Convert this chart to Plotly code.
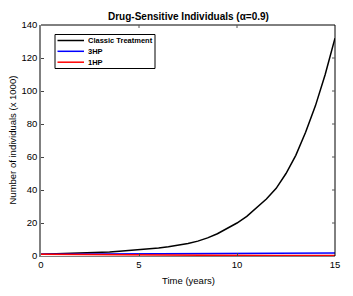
import plotly.graph_objects as go

t = [0, 0.5, 1, 1.5, 2, 2.5, 3, 3.5, 4, 4.5, 5, 5.5, 6, 6.5, 7, 7.5, 8, 8.5,
     9, 9.5, 10, 10.5, 11, 11.5, 12, 12.5, 13, 13.5, 14, 14.5, 15]
classic = [1.0, 1.15, 1.3, 1.5, 1.7, 1.95, 2.2, 2.5, 2.9, 3.3, 3.7, 4.3, 4.9, 5.6,
           6.5, 7.6, 9.0, 11.0, 13.5, 16.5, 20, 24, 29, 34.5, 41, 50, 61, 75, 91, 110, 132]
t_short = [0, 3, 6, 9, 12, 15]
hp3 = [1.0, 1.15, 1.3, 1.45, 1.6, 1.8]
hp1 = [1.0, 0.7, 0.5, 0.4, 0.3, 0.25]

series_names = ["Classic Treatment", "3HP", "1HP"]
series_colors = ["black", "#0000ff", "#ff0000"]

xticks = [0, 5, 10, 15]
yticks = [0, 20, 40, 60, 80, 100, 120, 140]

FONT = "Liberation Sans, Arial, Helvetica, sans-serif"
OFF = 8  # default page body margin
W, H = 353 - OFF, 296 - OFF
PL, PR, PT, PB = 41, 335, 25, 256  # plot area in page pixels
L, T = PL - OFF, PT - OFF
R, B = W - (PR - OFF), H - (PB - OFF)
PW, PH = PR - PL, PB - PT


def px_x(p):
    return (p - PL) / PW


def px_y(p):
    return 1 - (p - PT) / PH


fig = go.Figure()
for xs, ys, nm, col in [(t, classic, series_names[0], series_colors[0]),
                        (t_short, hp3, series_names[1], series_colors[1]),
                        (t_short, hp1, series_names[2], series_colors[2])]:
    fig.add_trace(go.Scatter(x=xs, y=ys, mode="lines", name=nm, showlegend=False,
                             line=dict(color=col, width=1.5)))

fig.update_layout(
    width=W, height=H,
    margin=dict(l=L, r=R, t=T, b=B),
    paper_bgcolor="white", plot_bgcolor="white",
    font=dict(family=FONT, size=9.5, color="black"),
    showlegend=False,
    xaxis=dict(range=[0, 15], tickvals=xticks, ticks="inside", ticklen=3,
               showline=True, linecolor="#808080", linewidth=1, mirror=False,
               showgrid=False, zeroline=False, automargin=False),
    yaxis=dict(range=[0, 140], tickvals=yticks, ticks="inside", ticklen=3,
               showline=True, linecolor="#808080", linewidth=1.5, mirror=False,
               showgrid=False, zeroline=False, automargin=False),
)

# title and axis titles
fig.add_annotation(text="<b>Drug-Sensitive Individuals (\u03b1=0.9)</b>", xref="paper", yref="paper",
                   x=0.5, y=px_y(16), xanchor="center", yanchor="middle", showarrow=False,
                   font=dict(size=10, family=FONT))
fig.add_annotation(text="Time (years)", xref="paper", yref="paper",
                   x=0.5, y=px_y(280), xanchor="center", yanchor="middle", showarrow=False,
                   font=dict(size=9.5, family=FONT))
fig.add_annotation(text="Number of individuals (x 1000)", xref="paper", yref="paper",
                   x=px_x(12), y=0.5, xanchor="center", yanchor="middle", showarrow=False,
                   textangle=-90, font=dict(size=9.5, family=FONT))

# top and right frame lines (black) with inward ticks
fig.add_shape(type="line", xref="paper", yref="paper", x0=0, x1=1, y0=1, y1=1,
              line=dict(color="black", width=1))
fig.add_shape(type="line", xref="paper", yref="paper", x0=1, x1=1, y0=0, y1=1,
              line=dict(color="black", width=1))
for xv in xticks[1:-1]:
    fig.add_shape(type="line", xref="x", yref="paper", x0=xv, x1=xv, y0=1, y1=1 - 3 / PH,
                  line=dict(color="#555", width=1))
for yv in yticks[1:-1]:
    fig.add_shape(type="line", xref="paper", yref="y", x0=1, x1=1 - 3 / PW, y0=yv, y1=yv,
                  line=dict(color="#555", width=1))

# legend box
fig.add_shape(type="rect", xref="paper", yref="paper",
              x0=px_x(55), x1=px_x(155), y0=px_y(34.5), y1=px_y(68.5),
              line=dict(color="black", width=1), fillcolor="white", layer="above")
rows = [40.5, 51.3, 62.2]
for nm, col, ry in zip(series_names, series_colors, rows):
    fig.add_shape(type="line", xref="paper", yref="paper",
                  x0=px_x(57.5), x1=px_x(84), y0=px_y(ry), y1=px_y(ry),
                  line=dict(color=col, width=1.5), layer="above")
    fig.add_annotation(text="<b>%s</b>" % nm, xref="paper", yref="paper",
                       x=px_x(85.5), y=px_y(ry), xanchor="left", yanchor="middle",
                       showarrow=False, font=dict(size=7.5, family=FONT))

fig.write_html("out.html")
